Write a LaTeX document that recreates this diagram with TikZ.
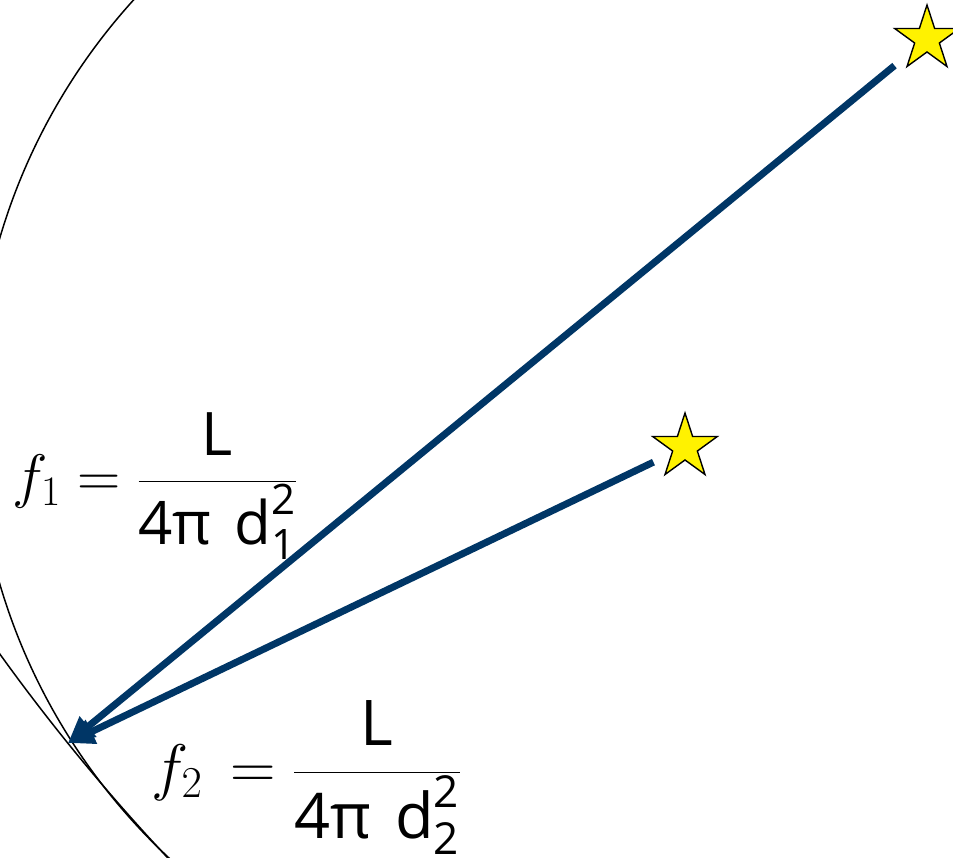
\RequirePackage{fix-cm}
\documentclass[tikz,border=0pt]{standalone}
\usepackage{amsmath}
\usepackage{fontspec}
\setsansfont{Open Sans}
\usetikzlibrary{arrows.meta,shapes.geometric}
\definecolor{navy}{RGB}{0,54,102}
\tikzset{
  curve/.style={draw=black, line width=1.5pt},
  starshape/.style={star, star points=5, star point ratio=2.618, minimum size=68pt,
    inner sep=0pt, draw=black, line width=1.4pt, fill=yellow},
  ray/.style={draw=navy, line width=7pt, -{Triangle[length=26pt,width=25pt]}},
  formula/.style={inner sep=0pt, font=\fontsize{60}{72}\selectfont},
  formulab/.style={inner sep=0pt, font=\fontsize{63}{75}\selectfont}
}
\begin{document}
\begin{tikzpicture}[x=1pt,y=-1pt]
\useasboundingbox (0,0) rectangle (953,858);
\begin{scope}
  \clip (0,0) rectangle (953,858);
  \draw[curve] (587,411) circle[radius=612pt];
  \draw[curve] (1642,-526) circle[radius=2022pt];
\end{scope}
\coordinate (obs) at (68,743);
\node[starshape] (s1) at (927,39) {};
\node[starshape] (s2) at (685,447) {};
\draw[ray, shorten <=42pt] (s1.center) -- (obs);
\draw[ray, shorten <=35pt] (s2.center) -- (obs);
\node[formula, anchor=base west] (F1) at (12,496)
  {$f_1 = \dfrac{\textsf{L}}{\textsf{4π\hspace{0.12em} d}_{\textsf{1}}^{\textsf{2}}}$};
\node[formulab, anchor=base west] (F2) at (151,788)
  {$f_2 \mkern3mu= \dfrac{\textsf{L}}{\textsf{4π\hspace{0.12em} d}_{\textsf{2}}^{\textsf{2}}}$};
\end{tikzpicture}
\end{document}
